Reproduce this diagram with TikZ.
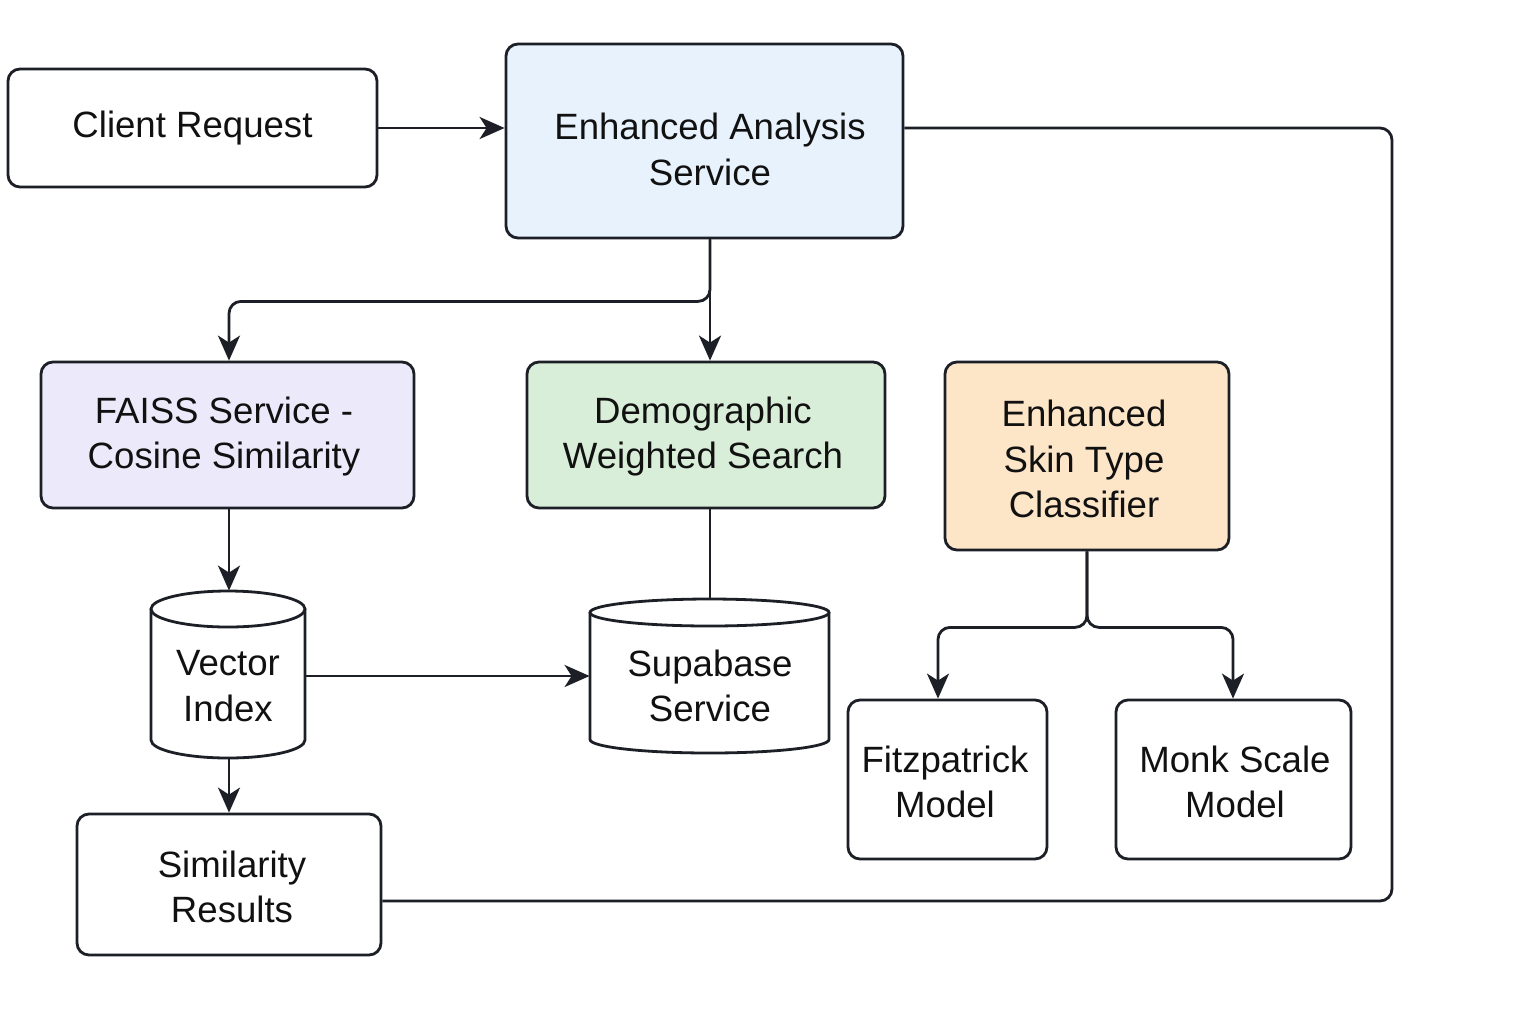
\documentclass[tikz,border=0pt]{standalone}
\usepackage{fontspec}
\setmainfont{Liberation Sans}
\usetikzlibrary{arrows.meta}
\definecolor{lnc}{HTML}{1C1F26}
\definecolor{txc}{HTML}{111111}
\definecolor{easfill}{HTML}{E7F2FD}
\definecolor{faissfill}{HTML}{ECEAFA}
\definecolor{demfill}{HTML}{D9EED8}
\definecolor{clsfill}{HTML}{FDE5C8}
\newcommand{\lowertext}[2]{\raisebox{#1}[\height][\depth]{\parbox{300pt}{\centering #2}}}
\begin{document}
\begin{tikzpicture}[x=0.5pt,y=-0.5pt,
  box/.style={draw=lnc, line width=1.4pt, rounded corners=6pt, fill=white, inner sep=0pt,
    align=center, text=txc, font=\fontsize{18.3pt}{22.8pt}\selectfont},
  lbl/.style={inner sep=0pt, align=center, text=txc, font=\fontsize{18.3pt}{22.8pt}\selectfont},
  ghost/.style={inner sep=0pt, draw=none},
  cyl/.style={draw=lnc, line width=1.4pt, fill=white},
  conn/.style={draw=lnc, line width=1.4pt, rounded corners=6pt},
  arr/.style={conn, -{Stealth[length=12.5pt, width=11pt, inset=3.5pt]}}]
\useasboundingbox (0,0) rectangle (1536,1024);
\fill[white] (0,0) rectangle (1536,1024);

% boxes
\node[box, minimum width=184.5pt, minimum height=59pt] (cr) at (192.5,128) {Client Request};
\node[box, fill=easfill, minimum width=198.5pt, minimum height=97pt] (eas) at (704.5,141) {};
\node[lbl] (easL) at (710,149.5) {Enhanced Analysis\\Service};
\node[box, fill=faissfill, minimum width=186.5pt, minimum height=73pt] (faiss) at (227.5,435) {};
\node[lbl] (faissL) at (224,436.5) {FAISS Service -\\Cosine Similarity};
\node[box, fill=demfill, minimum width=179pt, minimum height=73pt] (dem) at (706,435) {};
\node[lbl] (demL) at (703,436.5) {Demographic\\Weighted Search};
\node[box, fill=clsfill, minimum width=142pt, minimum height=94pt] (cls) at (1087,456) {};
\node[lbl] (clsL) at (1084,459) {Enhanced\\Skin Type\\Classifier};
\node[box, minimum width=152pt, minimum height=70.5pt] (sim) at (229,884.5) {};
\node[lbl] (simL) at (232,887) {Similarity\\Results};
\node[box, minimum width=99.5pt, minimum height=79.5pt] (fitz) at (947.5,779.5) {};
\node[lbl] (fitzL) at (945,782) {Fitzpatrick\\Model};
\node[box, minimum width=117.5pt, minimum height=79.5pt] (monk) at (1233.5,779.5) {};
\node[lbl] (monkL) at (1235,782) {Monk Scale\\Model};

% cylinders
\draw[cyl] (151,609) -- (151,740) arc[start angle=180, end angle=360, x radius=38.5pt, y radius=9pt] -- (305,609);
\draw[cyl] (228,609) ellipse [x radius=38.5pt, y radius=9pt];
\node[ghost, minimum width=77pt, minimum height=83.5pt] (vi) at (228,674.5) {};
\node[lbl] (viL) at (228,686) {Vector\\Index};

\draw[cyl] (590,612.5) -- (590,739.5) arc[start angle=180, end angle=360, x radius=59.75pt, y radius=6.75pt] -- (829,612.5);
\draw[cyl] (709.5,612.5) ellipse [x radius=59.75pt, y radius=6.75pt];
\node[ghost, minimum width=119.5pt, minimum height=77pt] (sb) at (709.5,676) {};
\node[lbl] (sbL) at (710,686) {Supabase\\Service};

% connectors
\coordinate (loopTR) at (1392,128);
\coordinate (loopBR) at (1392,901);
\draw[arr] (cr.east) -- (eas.west |- cr.east);
\draw[conn] (eas.east |- cr.east) -- (loopTR) -- (loopBR) -- (sim.east |- loopBR);
\draw[arr] ([xshift=2.75pt]eas.south) -- ([xshift=2pt]dem.north);
\draw[arr] ([xshift=2.75pt]eas.south) -- ++(0,62) -| ([xshift=0.75pt]faiss.north);
\draw[arr] ([xshift=0.75pt]faiss.south) -- ([xshift=0.5pt]vi.north);
\draw[arr] (sb.west -| vi.east) -- (sb.west);
\draw[conn] ([xshift=2pt]dem.south) -- ([xshift=2pt]dem.south |- sb.north);
\draw[arr] ([xshift=0.5pt]vi.south) -- (sim.north);
\draw[arr] (cls.south) -- ++(0,76) -| ([xshift=-4.75pt]fitz.north);
\draw[arr] (cls.south) -- ++(0,76) -| ([xshift=-0.25pt]monk.north);
\end{tikzpicture}
\end{document}
